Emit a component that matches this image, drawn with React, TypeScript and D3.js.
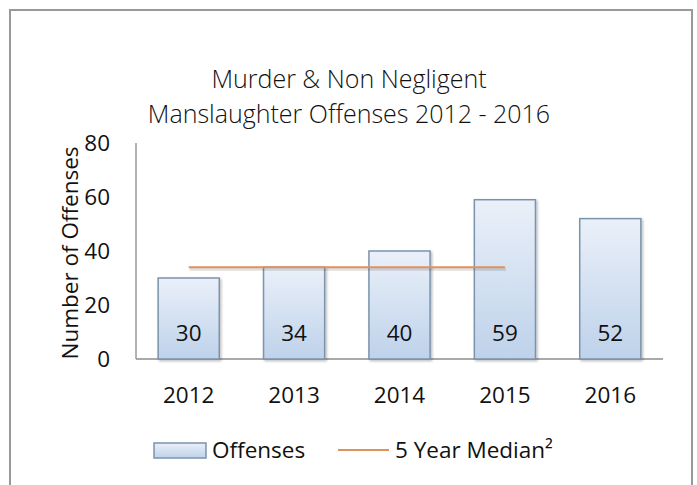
import React from "react";
import * as d3 from "d3";

const years = ["2012", "2013", "2014", "2015", "2016"];
const offenses = [30, 34, 40, 59, 52];
const median = [34, 34, 34, 34, null];
const yTicks = [0, 20, 40, 60, 80];
const titleLines = ["Murder & Non Negligent", "Manslaughter Offenses 2012 - 2016"];
const yTitle = "Number of Offenses";
const legendLabels = ["Offenses", "5 Year Median²"];

const W = 697;
const H = 485;
const FONT = "'Open Sans', 'Noto Sans', sans-serif";
const FS = 22.5;

export default function App() {
  const x = d3.scaleBand<string>().domain(years).range([136, 663]).paddingInner(0.42).paddingOuter(0.21);
  const y = d3.scaleLinear().domain([0, 80]).range([359, 143]);
  const line = d3
    .line<number | null>()
    .defined((d) => d !== null)
    .x((_, i) => (x(years[i]) as number) + x.bandwidth() / 2)
    .y((d) => y(d as number));
  const medPath = line(median) || "";

  return (
    <svg width={W} height={H} style={{ position: "absolute", left: 0, top: 0 }}>
      <defs>
        <linearGradient id="barGrad" x1="0" y1="0" x2="0" y2="1">
          <stop offset="0%" stopColor="#eaf0f9" />
          <stop offset="100%" stopColor="#bed2ea" />
        </linearGradient>
        <filter id="shadow" x="-20%" y="-20%" width="140%" height="140%">
          <feDropShadow dx="1.5" dy="1.5" stdDeviation="1.2" floodColor="#000" floodOpacity="0.25" />
        </filter>
      </defs>
      <rect x={0} y={0} width={W} height={H} fill="#fff" />
      <path d={`M10,${H} L10,10 L692,10 L692,${H}`} fill="none" stroke="#999" strokeWidth={2} />

      {titleLines.map((t, i) => (
        <text key={t} x={349} y={88 + i * 35} textAnchor="middle" fontFamily={FONT} fontWeight={300} fontSize={25} fill="#111">
          {t}
        </text>
      ))}

      {/* axes */}
      <line x1={136} x2={136} y1={y(80)} y2={y(0)} stroke="#8c8c8c" strokeWidth={1.3} />
      <line x1={136} x2={663} y1={y(0)} y2={y(0)} stroke="#8c8c8c" strokeWidth={1.3} />
      {yTicks.map((t) => (
        <text key={t} x={110} y={y(t)} dy="0.35em" textAnchor="end" fontFamily={FONT} fontSize={FS} fill="#111">
          {t}
        </text>
      ))}
      <text transform={`translate(70,253) rotate(-90)`} textAnchor="middle" dy="0.35em" fontFamily={FONT} fontSize={FS} fill="#111">
        {yTitle}
      </text>

      {/* bars */}
      {offenses.map((v, i) => (
        <rect
          key={years[i]}
          x={x(years[i])}
          y={y(v)}
          width={x.bandwidth()}
          height={y(0) - y(v)}
          fill="url(#barGrad)"
          stroke="#7b93ad"
          strokeWidth={1.5}
          filter="url(#shadow)"
        />
      ))}
      <path d={medPath} fill="none" stroke="#000" strokeOpacity={0.12} strokeWidth={3} transform="translate(1,2)" />
      <path d={medPath} fill="none" stroke="#e0925e" strokeWidth={2} />
      {offenses.map((v, i) => (
        <text key={"l" + i} x={(x(years[i]) as number) + x.bandwidth() / 2} y={333} dy="0.35em" textAnchor="middle" fontFamily={FONT} fontSize={FS} fill="#111">
          {v}
        </text>
      ))}
      {years.map((yr) => (
        <text key={yr} x={(x(yr) as number) + x.bandwidth() / 2} y={395} dy="0.35em" textAnchor="middle" fontFamily={FONT} fontSize={FS} fill="#111">
          {yr}
        </text>
      ))}

      {/* legend */}
      <rect x={154} y={443} width={52} height={15} fill="url(#barGrad)" stroke="#7b93ad" strokeWidth={1.5} />
      <text x={212} y={450} dy="0.35em" fontFamily={FONT} fontSize={FS} fill="#111">{legendLabels[0]}</text>
      <line x1={338} x2={389} y1={450} y2={450} stroke="#e0925e" strokeWidth={2} />
      <text x={395} y={450} dy="0.35em" fontFamily={FONT} fontSize={FS} fill="#111">{legendLabels[1]}</text>
    </svg>
  );
}
